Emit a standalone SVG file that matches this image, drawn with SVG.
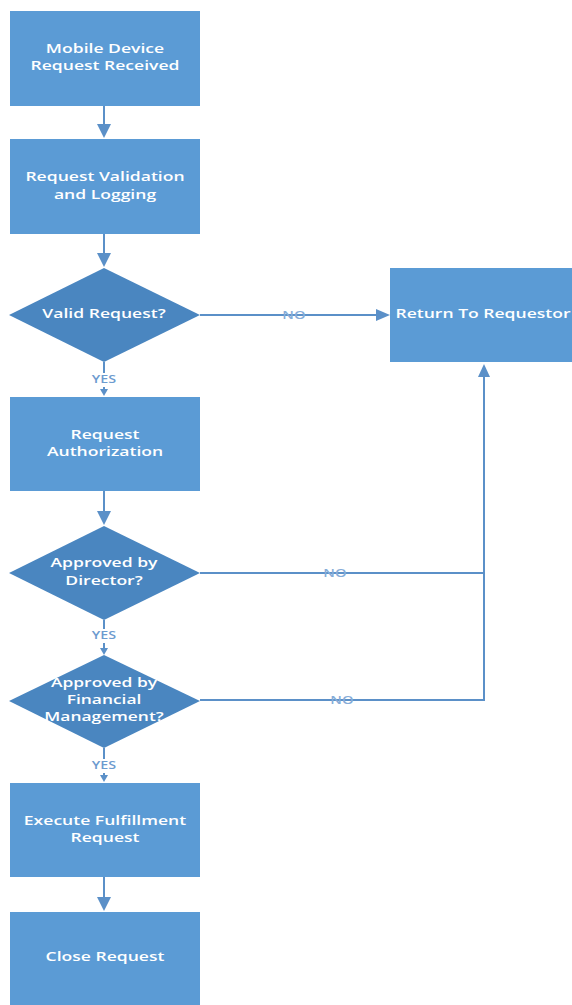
<svg xmlns="http://www.w3.org/2000/svg" width="572" height="1005" viewBox="0 0 572 1005">
<defs>
<style>
.box{fill:#5b9bd5;}
.dia{fill:#4a86c0;}
.t{font-family:"Open Sans","Liberation Sans",sans-serif;font-size:13px;font-weight:600;fill:#ffffff;text-anchor:middle;dominant-baseline:middle;}
.s{font-size:12px;}
.ln{stroke:#5b90c8;stroke-width:2;fill:none;}
.lb{font-family:"Open Sans","Liberation Sans",sans-serif;font-size:11px;font-weight:600;fill:#6d9bcf;text-anchor:middle;dominant-baseline:middle;}
.no{fill:#86acd8;}
</style>
</defs>
<rect width="572" height="1005" fill="#ffffff"/>
<g id="connectors">
<path class="ln" d="M104,106 V126"/><path d="M97,124 L111,124 L104,138 Z" fill="#5b90c8"/>
<path class="ln" d="M104,234 V254"/><path d="M97,253 L111,253 L104,267 Z" fill="#5b90c8"/>
<path class="ln" d="M200,315 H378"/><path d="M376,309 L390,315 L376,321 Z" fill="#5b90c8"/>
<text class="lb no" transform="translate(294,316) scale(1.35,1)">NO</text>
<path class="ln" d="M104,362 V390" stroke-width="1.5"/><path d="M100,389 L108,389 L104,396 Z" fill="#5b90c8"/>
<rect x="86" y="373" width="36" height="14" fill="#ffffff"/>
<text class="lb" transform="translate(104,380) scale(1.3,1)">YES</text>
<path class="ln" d="M104,491 V512"/><path d="M97,511 L111,511 L104,525 Z" fill="#5b90c8"/>
<path class="ln" d="M200,573 H484"/>
<text class="lb no" transform="translate(335,574) scale(1.35,1)">NO</text>
<path class="ln" d="M200,700 H484 V376"/><path d="M478,377 L484,364 L490,377 Z" fill="#5b90c8"/>
<text class="lb no" transform="translate(342,701) scale(1.35,1)">NO</text>
<path class="ln" d="M104,620 V650" stroke-width="1.5"/><path d="M100,648 L108,648 L104,655 Z" fill="#5b90c8"/>
<rect x="86" y="629" width="36" height="14" fill="#ffffff"/>
<text class="lb" transform="translate(104,636) scale(1.3,1)">YES</text>
<path class="ln" d="M104,748 V777" stroke-width="1.5"/><path d="M100,775 L108,775 L104,782 Z" fill="#5b90c8"/>
<rect x="86" y="759" width="36" height="14" fill="#ffffff"/>
<text class="lb" transform="translate(104,766) scale(1.3,1)">YES</text>
<path class="ln" d="M104,877 V898"/><path d="M97,897 L111,897 L104,911 Z" fill="#5b90c8"/>
</g>
<g id="n1"><rect class="box" x="10" y="11" width="190" height="95"/><text class="t" transform="translate(105,50) scale(1.35,1)">Mobile Device</text><text class="t" transform="translate(105,67) scale(1.35,1)">Request Received</text></g>
<g id="n2"><rect class="box" x="10" y="139" width="190" height="95"/><text class="t" transform="translate(105,178) scale(1.35,1)">Request Validation</text><text class="t" transform="translate(105,196) scale(1.35,1)">and Logging</text></g>
<g id="n3"><polygon class="dia" points="104,268 200,315 104,362 9,315"/><text class="t" transform="translate(104,315) scale(1.35,1)">Valid Request?</text></g>
<g id="n4"><rect class="box" x="390" y="268" width="182" height="94"/><text class="t" transform="translate(483,315) scale(1.35,1)">Return To Requestor</text></g>
<g id="n5"><rect class="box" x="10" y="397" width="190" height="94"/><text class="t" transform="translate(105,436) scale(1.35,1)">Request</text><text class="t" transform="translate(105,453) scale(1.35,1)">Authorization</text></g>
<g id="n6"><polygon class="dia" points="104,526 200,573 104,620 9,573"/><text class="t" transform="translate(104,564) scale(1.35,1)">Approved by</text><text class="t" transform="translate(104,582) scale(1.35,1)">Director?</text></g>
<g id="n7"><polygon class="dia" points="104,655 200,701 104,748 9,701"/><text class="t s" transform="translate(104,684) scale(1.45,1)">Approved by</text><text class="t s" transform="translate(104,701) scale(1.45,1)">Financial</text><text class="t s" transform="translate(104,718) scale(1.45,1)">Management?</text></g>
<g id="n8"><rect class="box" x="10" y="783" width="190" height="94"/><text class="t" transform="translate(105,822) scale(1.35,1)">Execute Fulfillment</text><text class="t" transform="translate(105,839) scale(1.35,1)">Request</text></g>
<g id="n9"><rect class="box" x="10" y="912" width="190" height="93"/><text class="t" transform="translate(105,958) scale(1.35,1)">Close Request</text></g>
</svg>
